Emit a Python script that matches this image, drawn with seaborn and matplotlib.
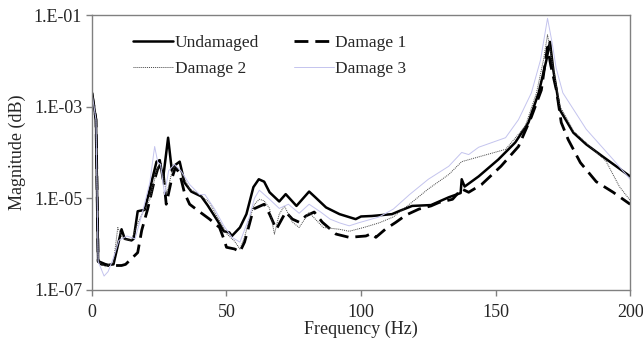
import numpy as np
import pandas as pd
import seaborn as sns
import matplotlib
matplotlib.use("Agg")
import matplotlib.pyplot as plt
from matplotlib.ticker import FixedLocator, NullLocator

# Frequency response magnitudes for the four structural states
freq_undamaged = [0, 1.5, 2.3, 3.5, 6, 8, 11, 12.2, 14.7, 15.5, 17, 19.6, 22.1, 24, 25.2, 26.4,
                  28.3, 29.7, 30.7, 32.6, 34.4, 36.9, 40.6, 43, 46.7, 49, 51, 52, 55, 57.4,
                  60, 62, 64, 66, 69.6, 72, 76, 80.7, 83, 87, 92, 98, 100, 104, 111.5, 114,
                  119, 126, 132.6, 137, 137.4, 138.5, 143.7, 151, 157.3, 162.2, 166, 168.9,
                  170.2, 171.5, 173.9, 178.9, 183.7, 190, 194.8, 200]
mag_undamaged = [2.0e-3, 5.2e-4, 4.2e-7, 3.6e-7, 3.5e-7, 3.6e-7, 2.1e-6, 1.3e-6, 1.2e-6,
                 1.3e-6, 5.2e-6, 5.6e-6, 2.2e-5, 6.3e-5, 6.8e-5, 2.6e-5, 2.1e-4, 4.0e-5,
                 5.2e-5, 6.3e-5, 2.2e-5, 1.4e-5, 1.1e-5, 7.0e-6, 3.2e-6, 1.9e-6, 1.8e-6,
                 1.5e-6, 2.3e-6, 4.5e-6, 1.75e-5, 2.6e-5, 2.3e-5, 1.35e-5, 8.5e-6, 1.23e-5,
                 6.8e-6, 1.4e-5, 1.05e-5, 6.3e-6, 4.5e-6, 3.5e-6, 4.0e-6, 4.1e-6, 4.5e-6,
                 5.2e-6, 6.8e-6, 7.1e-6, 1.05e-5, 1.3e-5, 2.6e-5, 1.8e-5, 3.0e-5, 7.0e-5,
                 1.65e-4, 4.5e-4, 2.0e-3, 1.05e-2, 2.6e-2, 6.0e-3, 8.5e-4, 2.7e-4, 1.5e-4,
                 8.0e-5, 5.0e-5, 3.0e-5]

freq_damage1 = [0, 1.5, 2.3, 6, 11, 12.5, 17, 18.5, 20.7, 23.3, 24.4, 25.5, 26.5, 27.6,
                29.6, 31, 32.6, 34.4, 36.3, 39, 43.7, 47.4, 49, 50, 53, 55, 56.7, 58.5,
                60, 64, 66, 68.5, 72, 74.5, 77, 79.5, 82.6, 85.6, 90.7, 95.6, 101.8, 104,
                105.5, 109, 113, 116.7, 121.5, 126, 129, 134, 137.4, 140, 144.8, 152,
                158.5, 163.3, 167, 168.3, 169.3, 170.5, 172.6, 174.4, 177, 181.5, 187.4,
                193.7, 200]
mag_damage1 = [2.0e-3, 5.2e-4, 4.2e-7, 3.4e-7, 3.4e-7, 3.6e-7, 6.5e-7, 2.0e-6, 5.8e-6,
               2.6e-5, 4.3e-5, 5.5e-5, 3.5e-5, 7.4e-6, 2.6e-5, 4.7e-5, 3.5e-5, 1.3e-5,
               7.4e-6, 5.6e-6, 3.5e-6, 2.3e-6, 1.3e-6, 8.5e-7, 7.8e-7, 6.8e-7, 1.1e-6,
               2.7e-6, 5.8e-6, 7.4e-6, 4.5e-6, 2.1e-6, 5.0e-6, 3.5e-6, 3.0e-6, 4.1e-6,
               5.0e-6, 3.0e-6, 1.65e-6, 1.4e-6, 1.5e-6, 1.7e-6, 1.4e-6, 2.1e-6, 3.0e-6,
               4.3e-6, 5.8e-6, 6.8e-6, 8.1e-6, 9.5e-6, 1.6e-5, 1.35e-5, 2.0e-5, 5.0e-5,
               1.35e-4, 6.0e-4, 2.3e-3, 8.0e-3, 2.0e-2, 8.0e-3, 2.3e-3, 4.5e-4, 1.9e-4,
               6.0e-5, 2.3e-5, 1.35e-5, 7.4e-6]

freq_damage2 = [0, 1.5, 2.3, 5, 8, 9.6, 11.5, 14.5, 17.8, 21.5, 24, 25.2, 26.5, 27.8,
                29.6, 30.7, 32.6, 36.3, 40, 43.7, 47.4, 50, 53, 55, 56.7, 58.5, 60.4,
                62.2, 64, 66, 67.8, 69.6, 71.5, 74.5, 77, 80.7, 83, 86, 92, 95.6, 101,
                106.7, 112, 118, 125, 132.6, 137.4, 143.7, 153.7, 161, 165.2, 167.8,
                169.3, 170.8, 172.5, 174, 179, 186, 191, 196, 200]
mag_damage2 = [2.0e-3, 5.2e-4, 4.2e-7, 3.2e-7, 4.0e-7, 2.3e-6, 1.3e-6, 1.2e-6, 3.6e-6,
               9.5e-6, 3.9e-5, 6.0e-5, 3.0e-5, 1.25e-5, 3.5e-5, 5.0e-5, 4.2e-5, 1.6e-5,
               1.2e-5, 8.1e-6, 3.2e-6, 1.7e-6, 1.15e-6, 7.8e-7, 1.4e-6, 3.5e-6, 7.4e-6,
               9.5e-6, 8.8e-6, 6.0e-6, 1.65e-6, 4.5e-6, 6.8e-6, 3.0e-6, 2.3e-6, 4.9e-6,
               3.5e-6, 2.3e-6, 2.1e-6, 1.9e-6, 2.3e-6, 2.9e-6, 3.9e-6, 7.4e-6, 1.6e-5,
               3.3e-5, 6.3e-5, 8.0e-5, 1.17e-4, 3.7e-4, 2.0e-3, 1.05e-2, 3.7e-2, 1.2e-2,
               3.0e-3, 1.0e-3, 2.9e-4, 1.2e-4, 6.5e-5, 1.8e-5, 9.0e-6]

freq_damage3 = [0, 1.5, 2.3, 4.5, 6, 8, 10, 13, 16, 18.5, 21.5, 23.3, 24.5, 25.5, 27,
                28.5, 30.7, 33, 36.3, 40, 42, 45.6, 49, 52, 55, 58.5, 60.4, 62.2, 66,
                69.6, 73, 77, 80.7, 85, 88.5, 92, 95.6, 99, 106.7, 112, 118, 125, 132.6,
                137.4, 140, 143.7, 153.7, 158.5, 163.3, 166.7, 169.3, 171, 172.5, 175,
                183.7, 193.7, 200]
mag_damage3 = [2.0e-3, 5.2e-4, 4.2e-7, 2.0e-7, 2.5e-7, 5.0e-7, 1.2e-6, 1.5e-6, 1.3e-6,
               4.3e-6, 2.2e-5, 1.35e-4, 6.0e-5, 5.5e-5, 1.2e-5, 4.0e-5, 5.5e-5, 4.0e-5,
               2.0e-5, 1.2e-5, 1.2e-5, 5.8e-6, 2.5e-6, 1.4e-6, 1.1e-6, 3.9e-6, 1.0e-5,
               1.5e-5, 9.5e-6, 6.0e-6, 7.4e-6, 4.7e-6, 7.4e-6, 5.0e-6, 3.5e-6, 2.9e-6,
               2.5e-6, 2.9e-6, 3.9e-6, 5.8e-6, 1.2e-5, 2.6e-5, 5.0e-5, 1.0e-4, 9.0e-5,
               1.3e-4, 2.1e-4, 5.2e-4, 2.0e-3, 1.05e-2, 8.5e-2, 2.5e-2, 7.0e-3, 2.0e-3,
               3.2e-4, 7.0e-5, 2.6e-5]

x_ticks = [0, 50, 100, 150, 200]
y_ticks = [1e-7, 1e-5, 1e-3, 1e-1]
y_tick_labels = ["1.E-07", "1.E-05", "1.E-03", "1.E-01"]

sns.set_theme(style="white")
plt.rcParams["font.family"] = ["Liberation Serif", "DejaVu Serif"]

fig = plt.figure(figsize=(6.43, 3.43), dpi=100)
ax = fig.add_axes([0.143, 0.155, 0.837, 0.801])

series = [
    ("Undamaged", freq_undamaged, mag_undamaged, dict(color="black", linewidth=1.8)),
    ("Damage 1", freq_damage1, mag_damage1, dict(color="black", linewidth=2.0)),
    ("Damage 2", freq_damage2, mag_damage2, dict(color="#444444", linewidth=0.7)),
    ("Damage 3", freq_damage3, mag_damage3, dict(color="#c4c4ee", linewidth=0.7)),
]
line_dashes = {"Undamaged": None, "Damage 1": (5, 2.5), "Damage 2": (1, 1), "Damage 3": None}

for name, f, m, style in series:
    df = pd.DataFrame({"Frequency": f, "Magnitude": m})
    sns.lineplot(data=df, x="Frequency", y="Magnitude", ax=ax, label=name,
                 sort=False, **style)
    line = ax.get_lines()[-1]
    if line_dashes[name] is not None:
        line.set_dashes(line_dashes[name])

ax.set_yscale("log")
ax.set_xlim(0, 200)
ax.set_ylim(1e-7, 1e-1)
ax.xaxis.set_major_locator(FixedLocator(x_ticks))
ax.yaxis.set_major_locator(FixedLocator(y_ticks))
ax.yaxis.set_minor_locator(NullLocator())
ax.set_yticklabels(y_tick_labels)
ax.tick_params(axis="both", which="major", direction="out", length=4, width=1,
               color="#808080", labelsize=13, left=True, bottom=True)
ax.tick_params(axis="x", pad=6)
ax.tick_params(axis="y", pad=3)

for sp in ax.spines.values():
    sp.set_color("#808080")
    sp.set_linewidth(1.0)

ax.set_xlabel("Frequency (Hz)", fontsize=13, labelpad=0)
ax.set_ylabel("Magnitude (dB)", fontsize=13, labelpad=6)

# legend entries laid out row by row: Undamaged, Damage 1 / Damage 2, Damage 3
handles, labels = ax.get_legend_handles_labels()
order = [0, 2, 1, 3]
ax.legend([handles[i] for i in order], [labels[i] for i in order],
          loc="upper left", bbox_to_anchor=(0.076, 0.928), ncol=2, frameon=False,
          fontsize=12.5, handlelength=2.3, handletextpad=0.1, columnspacing=2.0,
          labelspacing=0.55, borderpad=0, borderaxespad=0)

fig.savefig("out.png", dpi=100)
